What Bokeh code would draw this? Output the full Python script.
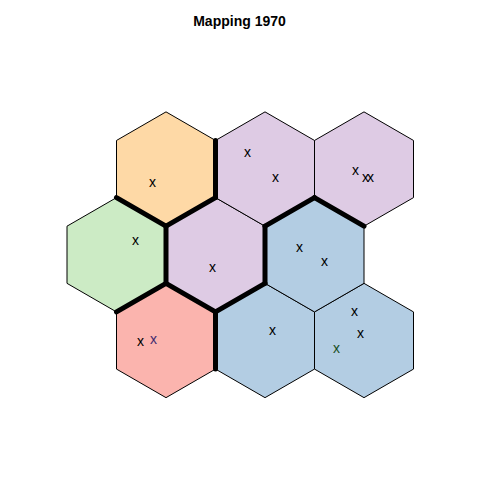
import math
from bokeh.plotting import figure
from bokeh.models import ColumnDataSource, Range1d
from bokeh.core.properties import value
from bokeh.embed import file_html
from bokeh.resources import INLINE

# SOM grid (3 x 3 hexagonal), unit centres in grid coordinates
unit_x = [1.5, 2.5, 3.5, 1.0, 2.0, 3.0, 1.5, 2.5, 3.5]
unit_y = [1.0, 1.0, 1.0, 1.866, 1.866, 1.866, 2.732, 2.732, 2.732]
# cluster of each unit
unit_cluster = [0, 1, 1, 2, 3, 1, 4, 3, 3]
cluster_colors = ["#FBB4AE", "#B3CDE3", "#CCEBC5", "#DECBE4", "#FED9A6"]

# mapped objects (grid coordinates with jitter)
obj_x = [1.364, 1.192, 1.970, 2.323, 2.606, 3.414, 3.515, 3.566,
         2.849, 3.101, 1.242, 1.374, 2.576, 3.404, 3.465, 3.223]
obj_y = [2.596, 2.020, 1.747, 2.899, 2.647, 2.727, 2.656, 2.656,
         1.949, 1.798, 0.990, 1.020, 1.111, 1.293, 1.071, 0.929]
obj_col = ["#000000"] * 16
obj_col[11] = "#3F2A6E"
obj_col[15] = "#1A4D24"

title_text = "Mapping 1970"

R = 1 / math.sqrt(3)  # hexagon circumradius for unit spacing


def hex_verts(cx, cy):
    xs, ys = [], []
    for k in range(6):
        a = math.radians(90 + 60 * k)
        xs.append(cx + R * math.cos(a))
        ys.append(cy + R * math.sin(a))
    return xs, ys


W = H = 480
scale = 99.0
x0 = 1.5 - 165.5 / scale
y0 = 1.0 - 140.0 / scale

p = figure(width=W, height=H, output_backend="svg", toolbar_location=None,
           x_range=Range1d(x0, x0 + W / scale), y_range=Range1d(y0, y0 + H / scale),
           min_border=0)
p.axis.visible = False
p.grid.visible = False
p.outline_line_color = None
p.background_fill_color = "white"
p.border_fill_color = "white"

hx, hy, hc = [], [], []
for cx, cy, cl in zip(unit_x, unit_y, unit_cluster):
    xs, ys = hex_verts(cx, cy)
    hx.append(xs)
    hy.append(ys)
    hc.append(cluster_colors[cl])
p.patches(xs="xs", ys="ys", fill_color="fc", line_color="black", line_width=1,
          source=ColumnDataSource(dict(xs=hx, ys=hy, fc=hc)))

# cluster boundaries between adjacent units of different clusters
bx0, by0, bx1, by1 = [], [], [], []
n = len(unit_x)
for i in range(n):
    for j in range(i + 1, n):
        dx = unit_x[j] - unit_x[i]
        dy = unit_y[j] - unit_y[i]
        d = math.hypot(dx, dy)
        if abs(d - 1.0) < 0.01 and unit_cluster[i] != unit_cluster[j]:
            mx = (unit_x[i] + unit_x[j]) / 2
            my = (unit_y[i] + unit_y[j]) / 2
            px, py = -dy / d, dx / d
            h = R / 2
            bx0.append(mx - px * h)
            by0.append(my - py * h)
            bx1.append(mx + px * h)
            by1.append(my + py * h)
p.segment(x0=bx0, y0=by0, x1=bx1, y1=by1, line_color="black", line_width=5,
          line_cap="round")

p.text(x=obj_x, y=obj_y, text=["x"] * len(obj_x), text_color=obj_col,
       text_font=value("Liberation Sans"), text_font_size="14px",
       text_align="center", text_baseline="middle")

p.text(x=[x0 + 239 / scale], y=[y0 + (480 - 20) / scale], text=[title_text],
       text_font=value("Liberation Sans"), text_font_size="14px",
       text_font_style="bold", text_align="center", text_baseline="middle",
       text_color="black")

open("out.html", "w").write(file_html(p, INLINE))
